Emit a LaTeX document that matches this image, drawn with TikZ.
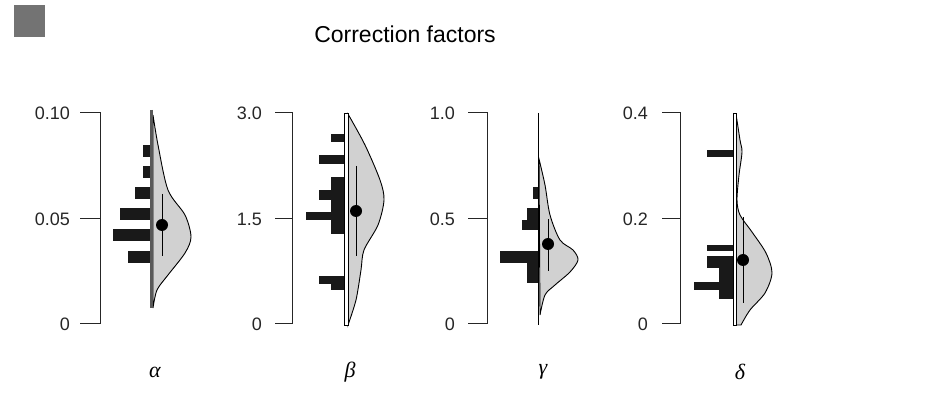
\documentclass[tikz,border=0pt]{standalone}
\usepackage{fontspec}
\setmainfont{Liberation Sans}
\newfontfamily\grk{Liberation Serif}
\begin{document}
\begin{tikzpicture}[x=1pt,y=-1pt,
  axis/.style={line width=1pt,black!85},
  tlab/.style={anchor=east,font=\fontsize{18}{20}\selectfont,text=black!85,inner sep=0},
  bar/.style={fill=black!90,draw=none},
  vio/.style={fill=black!18,draw=black,line width=0.9pt},
  dotm/.style={circle,fill=black,inner sep=0,minimum size=12pt},
  err/.style={line width=0.9pt},
  glab/.style={font=\grk\itshape\fontsize{22}{24}\selectfont}]
\useasboundingbox (0,0) rectangle (948,411);
\fill[black!55] (14,5) rectangle (45,37);
\node (title) at (405,34) {\fontsize{23}{26}\selectfont Correction factors};
% ---- alpha
\draw[axis] (80,113) -- (100,113) -- (100,324) -- (80,324) (80,219) -- (100,219);
\node[tlab] (a1) at (70,113) {0.10};
\node[tlab] (a2) at (70,219) {0.05};
\node[tlab] (a3) at (70,324) {0};
\fill[vio] plot[smooth] coordinates {(153,115) (158,145) (168,190) (185,215) (191,237) (185,253) (168,275) (157,290) (153,308)} -- cycle;
\foreach \y/\l in {151/143,172/143,193/135,214/120,235/113,257/128}
  \fill[bar] (\l,\y-6) rectangle (152,\y+6);
\draw[line width=3pt,black!65] (151,110) -- (151,308);
\draw[err] (162,194) -- (162,256);
\node[dotm] (da) at (162,225) {};
\node[glab] (ga) at (155,372) {α};
% ---- beta
\draw[axis] (275,113) -- (292,113) -- (292,324) -- (275,324) (275,219) -- (292,219);
\node[tlab] (b1) at (262,113) {3.0};
\node[tlab] (b2) at (262,219) {1.5};
\node[tlab] (b3) at (262,324) {0};
\fill[vio] plot[smooth] coordinates {(348,114) (365,145) (380,180) (384,200) (378,225) (364,250) (361,270) (356,300) (348,325)} -- cycle;
\fill[bar] (331,134) rectangle (345,142);
\fill[bar] (319,155) rectangle (345,164);
\fill[bar] (331,177) rectangle (345,234);
\fill[bar] (319,190) rectangle (345,200);
\fill[bar] (306,212) rectangle (345,220);
\fill[bar] (319,276) rectangle (345,284);
\fill[bar] (331,276) rectangle (345,290);
\draw[line width=0.8pt,fill=white] (344.5,113) rectangle (348,325);
\draw[err] (356,166) -- (356,256);
\node[dotm] (db) at (356,211) {};
\node[glab] (gb) at (350,372) {β};
% ---- gamma
\draw[axis] (468,113) -- (487,113) -- (487,324) -- (468,324) (468,219) -- (487,219);
\node[tlab] (c1) at (455,113) {1.0};
\node[tlab] (c2) at (455,219) {0.5};
\node[tlab] (c3) at (455,324) {0};
\fill[vio] plot[smooth] coordinates {(539,159) (545,185) (550,215) (560,240) (573,250) (578,260) (570,272) (555,285) (545,295) (540,315)} -- cycle;
\fill[bar] (533,187) rectangle (538,199);
\fill[bar] (527,208) rectangle (538,230);
\fill[bar] (522,220) rectangle (538,230);
\fill[bar] (500,251) rectangle (538,263);
\fill[bar] (527,263) rectangle (538,283);
\draw[line width=1pt] (538,113) -- (538,325);
\draw[err] (548,219) -- (548,271);
\node[dotm] (dc) at (548,244) {};
\node[glab] (gc) at (543,372) {γ};
% ---- delta
\draw[axis] (662,113) -- (680,113) -- (680,324) -- (662,324) (662,219) -- (680,219);
\node[tlab] (d1) at (648,113) {0.4};
\node[tlab] (d2) at (648,219) {0.2};
\node[tlab] (d3) at (648,324) {0};
\fill[vio] plot[smooth] coordinates {(736,114) (740,140) (742,152) (739,175) (737,200) (740,215) (752,232) (766,253) (772,273) (765,293) (750,310) (741,325)} -- (736,325) -- cycle;
\fill[bar] (707,150) rectangle (733,157);
\fill[bar] (707,245) rectangle (733,251);
\fill[bar] (707,256) rectangle (733,268);
\fill[bar] (719,256) rectangle (733,299);
\fill[bar] (694,282) rectangle (733,290);
\draw[line width=0.8pt,fill=white] (733,113) rectangle (736.5,325);
\draw[err] (743,217) -- (743,303);
\node[dotm] (dd) at (743,260) {};
\node[glab] (gd) at (740,372) {δ};
\end{tikzpicture}
\end{document}
